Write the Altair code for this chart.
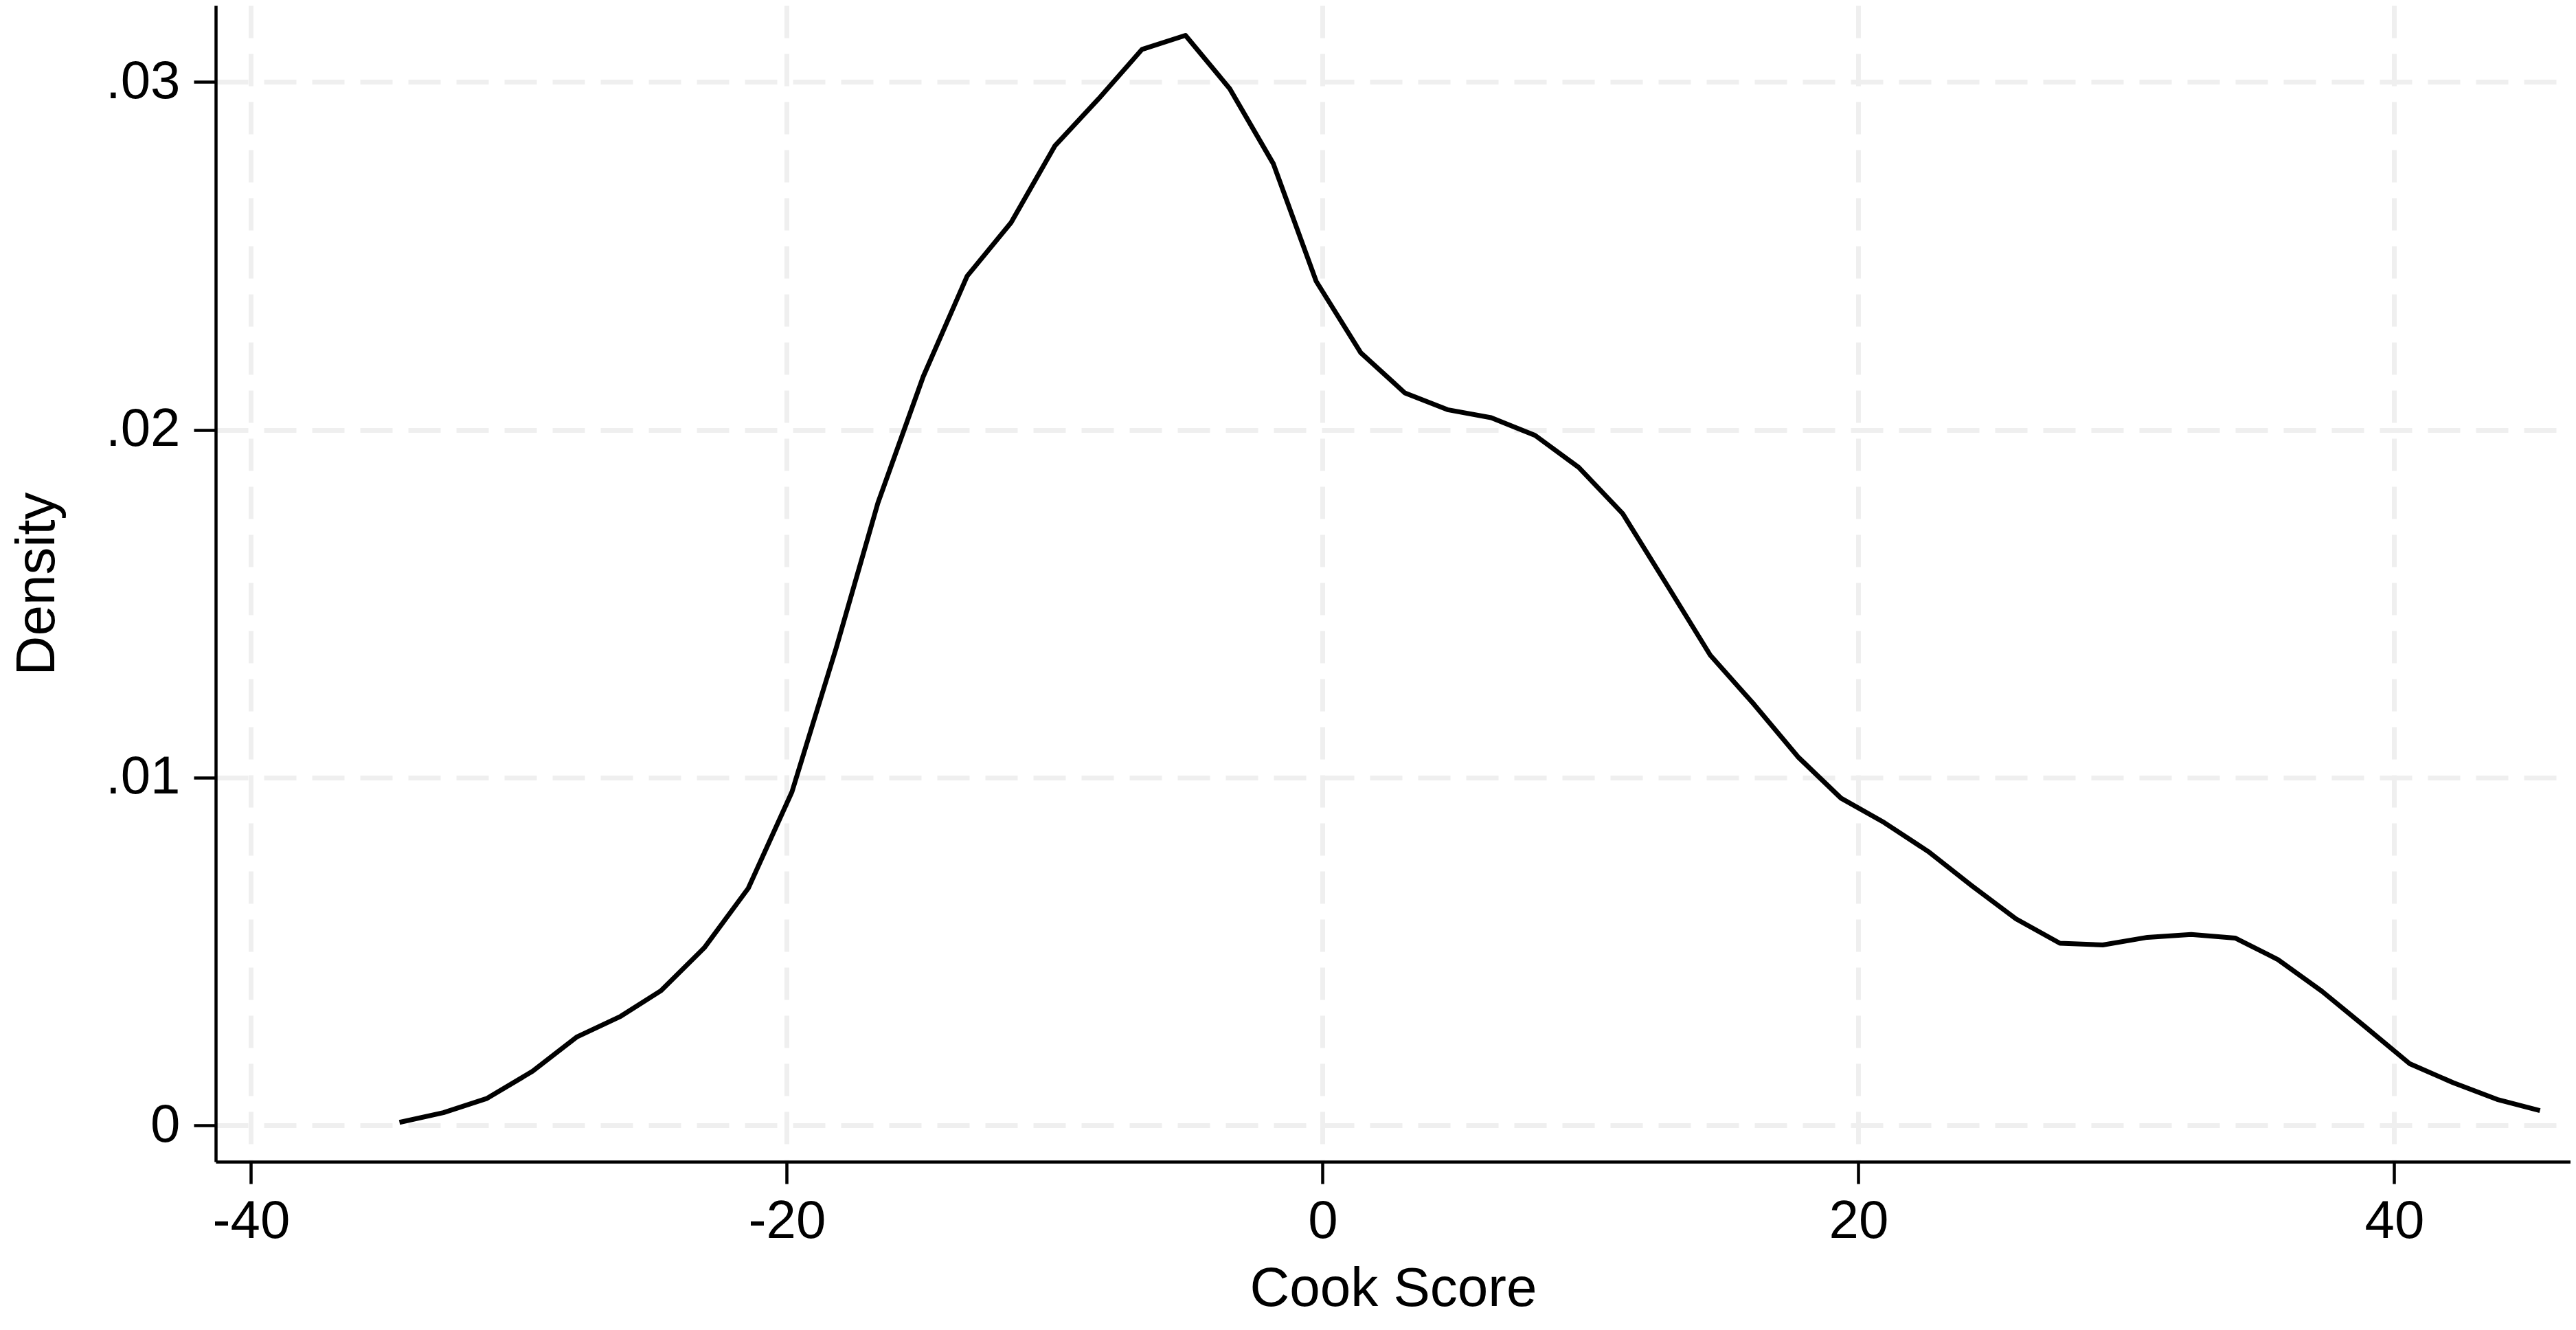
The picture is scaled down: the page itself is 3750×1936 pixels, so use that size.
import altair as alt
import pandas as pd

# Kernel density of Cook Score
cook_score = [-34.46, -32.82, -31.19, -29.49, -27.85, -26.20, -24.69, -23.08, -21.44, -19.81,
              -18.17, -16.60, -14.91, -13.27, -11.63, -9.99, -8.36, -6.74, -5.12, -3.47,
              -1.84, -0.24, 1.42, 3.07, 4.66, 6.29, 7.93, 9.56, 11.20, 12.83,
              14.47, 16.10, 17.74, 19.35, 20.96, 22.60, 24.22, 25.88, 27.52, 29.12,
              30.79, 32.42, 34.06, 35.66, 37.30, 38.93, 40.57, 42.20, 43.84, 45.44]
density = [0.00009, 0.00037, 0.00078, 0.00156, 0.00254, 0.00314, 0.00388, 0.00511, 0.00682, 0.00959,
           0.01370, 0.01790, 0.02153, 0.02442, 0.02596, 0.02817, 0.02952, 0.03094, 0.03134, 0.02981,
           0.02765, 0.02427, 0.02222, 0.02106, 0.02058, 0.02035, 0.01984, 0.01892, 0.01759, 0.01557,
           0.01352, 0.01211, 0.01060, 0.00941, 0.00871, 0.00788, 0.00690, 0.00594, 0.00524, 0.00519,
           0.00541, 0.00549, 0.00539, 0.00477, 0.00386, 0.00283, 0.00178, 0.00123, 0.00075, 0.00043]

x_ticks = [-40, -20, 0, 20, 40]
y_ticks = [0, 0.01, 0.02, 0.03]
x_title = "Cook Score"
y_title = "Density"

df = pd.DataFrame({"x": cook_score, "y": density})

FONT = "Liberation Sans"

chart = alt.Chart(df).mark_line(
    color="black", strokeWidth=7, strokeJoin="round", clip=True
).encode(
    x=alt.X("x:Q", title=x_title,
            scale=alt.Scale(domain=[-41.32, 46.58], nice=False, zero=False),
            axis=alt.Axis(values=x_ticks, labelExpr="'' + datum.value",
                          labelPadding=16, titlePadding=20)),
    y=alt.Y("y:Q", title=y_title,
            scale=alt.Scale(domain=[-0.001041, 0.0322], nice=False, zero=False),
            axis=alt.Axis(values=y_ticks,
                          labelExpr="replace(format(datum.value, '.2~f'), '0.', '.')",
                          labelPadding=20, titlePadding=58)),
).properties(
    width=3428, height=1683,
    autosize=alt.AutoSizeParams(type="none"),
    padding={"left": 306, "top": 0, "right": 0, "bottom": 237},
).configure_view(
    stroke=None
).configure_axis(
    labelFont=FONT, titleFont=FONT,
    labelFontSize=78, titleFontSize=80,
    labelColor="black", titleColor="black",
    titleFontWeight="normal",
    domainColor="black", domainWidth=4.5,
    tickColor="black", tickWidth=4.5, tickSize=32,
    grid=True, gridColor="#efefef", gridWidth=7, gridDash=[47, 23],
    labelFlush=False, labelOverlap=False,
)

chart.save("out.html", embed_options={"renderer": "svg", "actions": False})
